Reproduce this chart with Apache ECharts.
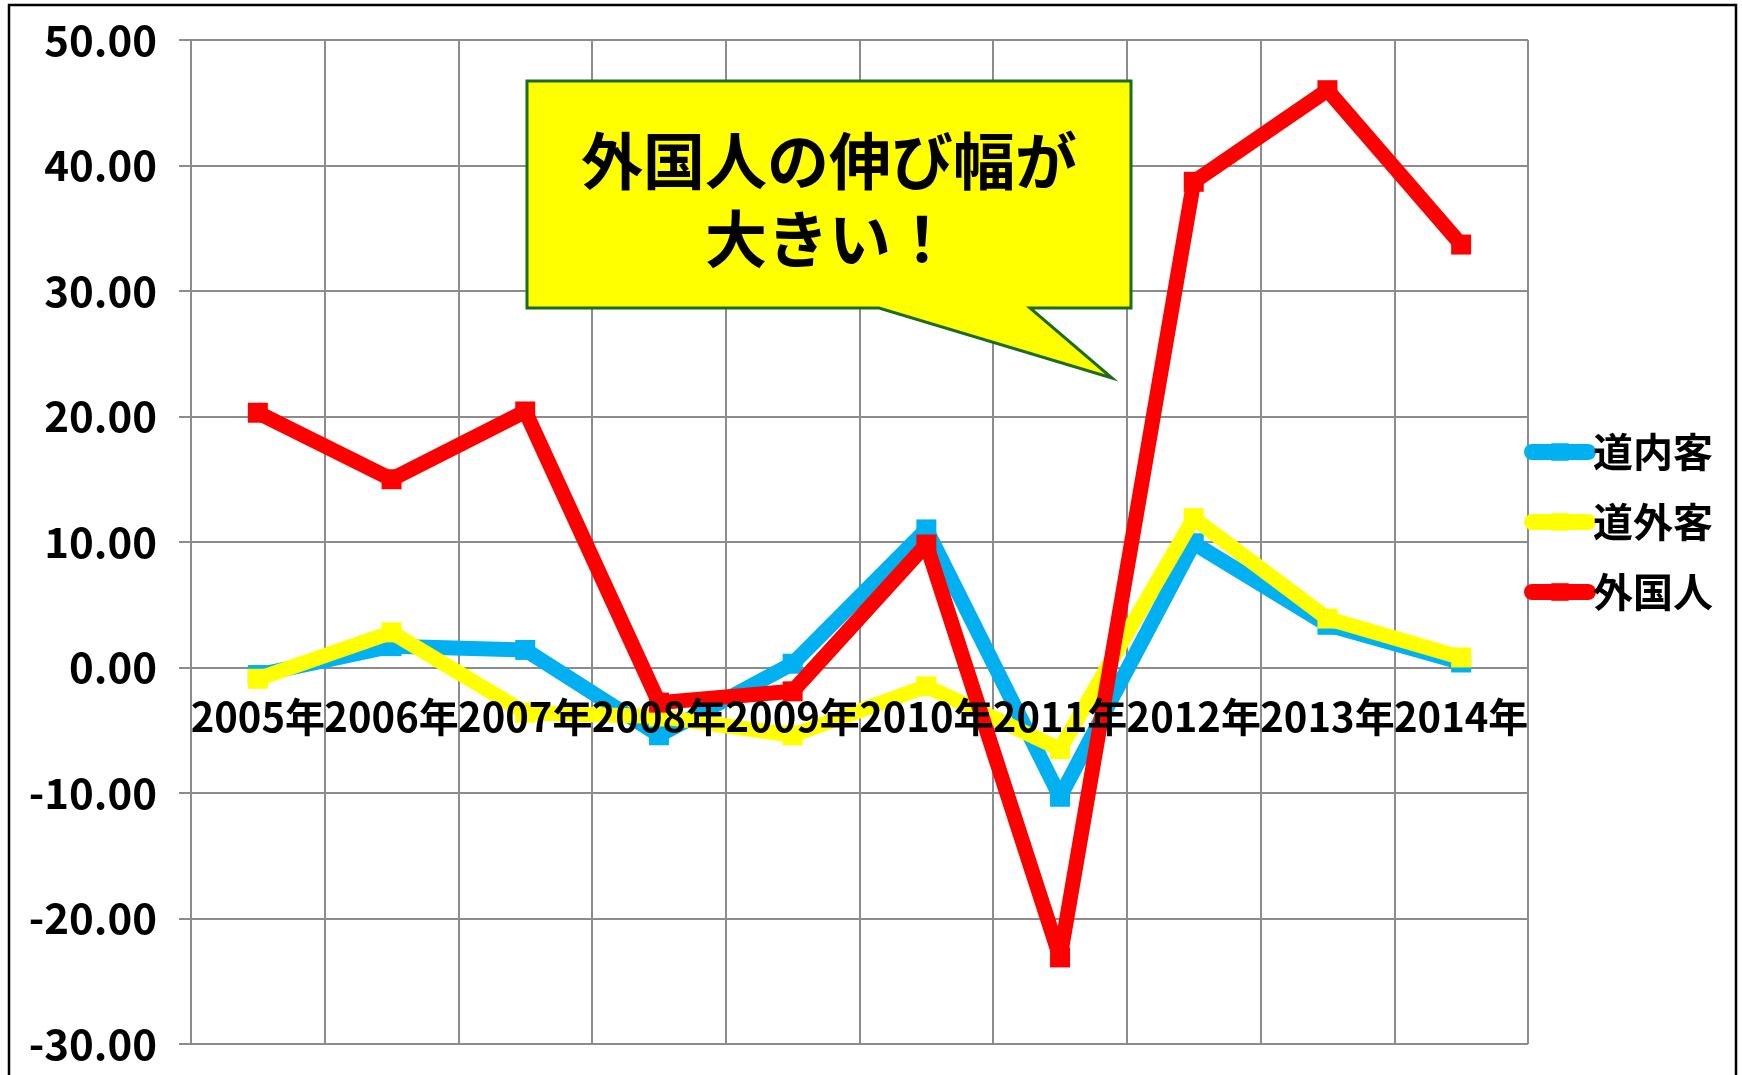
<!DOCTYPE html>
<html>
<head>
<meta charset="utf-8">
<script src="https://cdn.jsdelivr.net/npm/echarts@6/dist/echarts.min.js"></script>
<style>
  html, body { margin: 0; padding: 0; background: #fff; }
  #chart { width: 1742px; height: 1075px; }
</style>
</head>
<body>
<div id="chart"></div>
<script>
// ---- data ----
const categories = ['2005年','2006年','2007年','2008年','2009年','2010年','2011年','2012年','2013年','2014年'];
const seriesNames = ['道内客','道外客','外国人'];
const domestic = [-0.6, 1.7, 1.4, -5.4, 0.3, 11.0, -10.3, 9.9, 3.4, 0.4];   // 道内客
const outside  = [-0.9, 2.8, -3.6, -3.9, -5.4, -1.5, -6.5, 11.9, 3.9, 0.8]; // 道外客
const foreign  = [20.3, 15.0, 20.4, -2.8, -1.9, 9.8, -23.1, 38.7, 46.0, 33.7]; // 外国人
const yTicks = { min: -30, max: 50, interval: 10 };
const calloutText = ['外国人の伸び幅が', '大きい！'];

const FONT = '"Noto Sans CJK JP", "Noto Sans", sans-serif';
const colors = ['#00B0F0', '#FFFF00', '#FF0000'];

const GRID_TOP = 40, GRID_H = 1004;
// x-axis labels sit on the zero line: shift up from the grid bottom
const zeroOffset = -GRID_H * (0 - yTicks.min) / (yTicks.max - yTicks.min);

const chart = echarts.init(document.getElementById('chart'), null, { renderer: 'canvas' });

function lineSeries(name, data, color, z) {
  return {
    name: name,
    type: 'line',
    data: data,
    xAxisIndex: 0,
    z: z,
    symbol: 'rect',
    symbolSize: 20,
    showSymbol: true,
    lineStyle: { color: color, width: 15 },
    itemStyle: { color: color },
    emphasis: { disabled: true },
    animation: false
  };
}

const option = {
  animation: false,
  backgroundColor: '#ffffff',
  grid: { left: 191, top: GRID_TOP, width: 1337, height: GRID_H, containLabel: false, outerBoundsMode: 'none' },
  legend: {
    orient: 'vertical',
    left: 1524,
    top: 432,
    padding: 0,
    itemWidth: 56,
    itemHeight: 22,
    itemGap: 30,
    data: seriesNames,
    lineStyle: { width: 16, cap: 'round' },
    textStyle: { fontFamily: FONT, fontSize: 40, fontWeight: 'bold', color: '#000' }
  },
  xAxis: [
    {
      // grid lines (below series)
      type: 'category',
      data: categories,
      boundaryGap: true,
      z: 0,
      axisLine: { show: false, onZero: false },
      axisTick: { show: false },
      axisLabel: { show: false },
      splitLine: { show: true, lineStyle: { color: '#8C8C8C', width: 2 } }
    },
    {
      // category labels (above series), on the zero line
      type: 'category',
      data: categories,
      boundaryGap: true,
      position: 'bottom',
      offset: zeroOffset,
      z: 20,
      axisLine: { show: false, onZero: false },
      axisTick: { show: false },
      splitLine: { show: false },
      axisLabel: {
        interval: 0,
        margin: 29,
        fontFamily: FONT,
        fontSize: 40,
        fontWeight: 'bold',
        color: '#000'
      }
    }
  ],
  yAxis: {
    type: 'value',
    min: yTicks.min,
    max: yTicks.max,
    interval: yTicks.interval,
    axisLine: { show: true, onZero: false, lineStyle: { color: '#8C8C8C', width: 2 } },
    axisTick: { show: true, length: 12, lineStyle: { color: '#8C8C8C', width: 2 } },
    splitLine: { show: true, lineStyle: { color: '#8C8C8C', width: 2 } },
    axisLabel: {
      margin: 34,
      fontFamily: FONT,
      fontSize: 42,
      fontWeight: 'bold',
      color: '#000',
      formatter: function (v) { return v.toFixed(2); }
    }
  },
  series: [
    lineSeries(seriesNames[0], domestic, colors[0], 2),
    lineSeries(seriesNames[1], outside, colors[1], 3),
    lineSeries(seriesNames[2], foreign, colors[2], 4)
  ],
  graphic: [
    {
      type: 'rect',
      z: 100,
      shape: { x: 9, y: 5, width: 1727, height: 1100 },
      style: { fill: null, stroke: '#000', lineWidth: 2.5 }
    },
    {
      type: 'polygon',
      z: 110,
      shape: { points: [[527, 81], [1131, 81], [1131, 308], [1030, 308], [1112, 378], [879, 308], [527, 308]] },
      style: { fill: '#FFFF00', stroke: '#1E6B1E', lineWidth: 3, lineJoin: 'miter' }
    },
    {
      type: 'text',
      z: 120,
      x: 829,
      y: 161,
      style: {
        text: calloutText[0],
        font: 'bold 62px ' + FONT,
        fill: '#000',
        align: 'center',
        verticalAlign: 'middle'
      }
    },
    {
      type: 'text',
      z: 120,
      x: 829,
      y: 239,
      style: {
        text: calloutText[1],
        font: 'bold 62px ' + FONT,
        fill: '#000',
        align: 'center',
        verticalAlign: 'middle'
      }
    }
  ]
};

chart.setOption(option);
</script>
</body>
</html>
